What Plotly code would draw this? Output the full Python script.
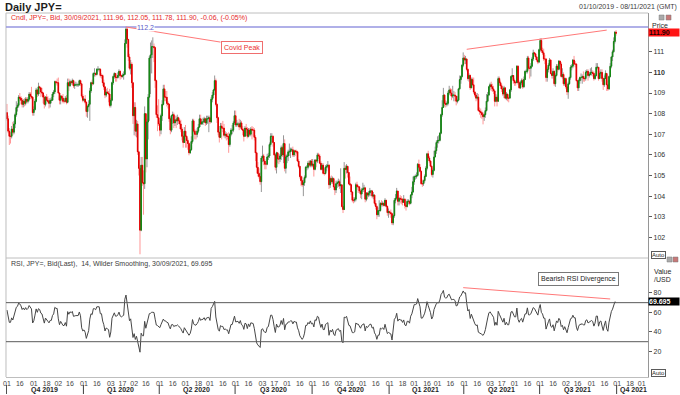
import numpy as np
import pandas as pd
import plotly.graph_objects as go

# ---------------- data (USD/JPY daily) ----------------
# September 2019 closes, only used to warm up the 14-period RSI
warmup_close = [106.25, 105.95, 106.45, 106.95, 106.90, 107.25, 107.55, 107.80, 108.10, 108.10,
                108.10, 108.15, 108.45, 107.95, 107.55, 107.55, 107.05, 107.75, 107.75, 107.90, 108.05]

# each month: (high, low, close) for every weekday of that month
oct19 = [(108.47, 107.65, 107.75), (107.90, 107.05, 107.15), (107.30, 106.48, 106.90), (107.10, 106.55, 106.90),
         (107.40, 106.80, 107.25), (107.60, 106.95, 107.10), (107.65, 107.00, 107.50), (108.05, 107.30, 107.95),
         (108.60, 107.85, 108.30), (108.50, 108.10, 108.40), (108.90, 108.30, 108.80), (109.00, 108.60, 108.75),
         (108.85, 108.45, 108.65), (108.75, 108.30, 108.45), (108.70, 108.30, 108.60), (108.75, 108.35, 108.50),
         (108.80, 108.40, 108.70), (108.80, 108.50, 108.60), (108.80, 108.50, 108.70), (109.05, 108.60, 108.95),
         (109.05, 108.70, 108.85), (109.30, 108.70, 108.80), (108.85, 107.90, 108.05)]
nov19 = [(108.35, 107.90, 108.20), (108.70, 108.15, 108.60), (109.25, 108.55, 109.15), (109.15, 108.80, 108.95),
         (109.50, 108.85, 109.30), (109.35, 108.95, 109.25), (109.30, 108.80, 109.05), (109.25, 108.85, 109.00),
         (109.05, 108.50, 108.80), (108.90, 108.25, 108.45), (108.85, 108.35, 108.80), (108.95, 108.60, 108.65),
         (108.85, 108.50, 108.60), (108.75, 108.25, 108.50), (108.75, 108.30, 108.65), (108.80, 108.50, 108.65),
         (109.05, 108.65, 108.95), (109.15, 108.80, 109.05), (109.60, 108.95, 109.55), (109.60, 109.40, 109.50),
         (109.70, 109.35, 109.50)]
dec19 = [(109.75, 108.95, 109.00), (109.05, 108.45, 108.65), (108.90, 108.45, 108.85), (108.90, 108.60, 108.75),
         (108.95, 108.50, 108.60), (108.70, 108.50, 108.60), (108.85, 108.55, 108.75), (108.90, 108.45, 108.55),
         (109.70, 108.50, 109.50), (109.70, 109.10, 109.35), (109.65, 109.30, 109.55), (109.60, 109.40, 109.50),
         (109.70, 109.40, 109.60), (109.65, 109.25, 109.35), (109.50, 109.20, 109.40), (109.55, 109.35, 109.40),
         (109.50, 109.30, 109.40), (109.45, 109.30, 109.40), (109.65, 109.35, 109.60), (109.65, 109.35, 109.45),
         (109.45, 108.75, 108.85), (108.95, 108.55, 108.65)]
jan20 = [(108.75, 108.60, 108.70), (108.90, 108.45, 108.55), (108.60, 107.85, 108.10), (108.40, 107.80, 108.35),
         (108.65, 108.30, 108.45), (109.25, 107.65, 109.10), (109.55, 109.00, 109.50), (109.65, 109.35, 109.45),
         (110.00, 109.40, 109.95), (110.20, 109.80, 109.95), (110.00, 109.80, 109.90), (110.20, 109.85, 110.15),
         (110.30, 110.05, 110.15), (110.20, 110.05, 110.15), (110.20, 109.75, 109.85), (109.95, 109.70, 109.85),
         (109.90, 109.35, 109.50), (109.65, 109.15, 109.30), (109.20, 108.75, 108.90), (109.20, 108.80, 109.05),
         (109.25, 108.95, 109.00), (109.10, 108.55, 108.95), (109.20, 108.30, 108.40)]
feb20 = [(108.75, 108.30, 108.65), (109.55, 108.60, 109.50), (109.85, 109.40, 109.80), (110.00, 109.70, 109.95),
         (109.95, 109.55, 109.75), (109.85, 109.55, 109.75), (110.00, 109.70, 109.85), (110.15, 109.75, 110.05),
         (110.10, 109.65, 109.85), (109.90, 109.70, 109.80), (109.95, 109.75, 109.85), (110.05, 109.65, 109.90),
         (111.60, 109.90, 111.40), (112.22, 111.40, 112.10), (112.15, 111.20, 111.60), (111.60, 110.55, 110.75),
         (110.90, 110.10, 110.20), (110.60, 109.90, 110.40), (110.50, 109.25, 109.50), (109.40, 107.50, 107.90)]
mar20 = [(108.55, 106.95, 108.30), (108.55, 106.90, 107.15), (107.70, 106.85, 107.50), (107.65, 106.00, 106.15),
         (106.20, 105.00, 105.35), (105.50, 101.18, 102.35), (105.90, 102.30, 105.50), (105.90, 104.50, 104.65),
         (105.25, 103.10, 104.60), (108.35, 104.35, 108.00), (107.30, 105.15, 105.80), (107.75, 105.40, 107.60),
         (108.95, 106.75, 108.80), (110.80, 107.65, 110.70), (111.45, 108.95, 110.85), (111.55, 109.95, 111.25),
         (111.70, 110.70, 111.25), (111.40, 110.50, 111.20), (111.25, 109.25, 109.60), (109.65, 107.80, 107.95),
         (108.40, 107.15, 107.80), (108.70, 107.40, 107.50)]
apr20 = [(107.65, 106.90, 107.20), (108.00, 107.00, 107.90), (108.65, 107.65, 108.45), (109.40, 108.40, 109.20),
         (109.40, 108.60, 108.80), (109.10, 108.60, 108.80), (109.10, 108.35, 108.50), (108.60, 108.25, 108.45),
         (108.50, 107.60, 107.75), (107.85, 107.00, 107.20), (107.95, 107.10, 107.90), (108.10, 107.50, 107.95),
         (108.05, 107.30, 107.55), (107.90, 107.40, 107.70), (107.90, 107.30, 107.65), (107.95, 107.45, 107.80),
         (107.85, 107.50, 107.65), (107.75, 107.25, 107.50), (107.70, 107.10, 107.25), (107.35, 106.70, 106.90),
         (106.95, 106.35, 106.60), (107.35, 106.60, 107.15)]
may20 = [(107.45, 106.35, 106.90), (106.95, 106.35, 106.70), (106.80, 106.25, 106.55), (106.60, 105.98, 106.10),
         (106.50, 106.05, 106.25), (106.90, 106.20, 106.65), (107.75, 106.55, 107.65), (107.75, 107.05, 107.15),
         (107.25, 106.75, 107.00), (107.20, 106.75, 107.00), (107.30, 106.85, 107.15), (107.50, 107.05, 107.35),
         (107.95, 107.30, 107.75), (107.95, 107.45, 107.50), (107.75, 107.45, 107.60), (107.80, 107.45, 107.60),
         (107.85, 107.55, 107.75), (107.80, 107.40, 107.55), (107.90, 107.45, 107.75), (107.90, 107.50, 107.75),
         (107.90, 107.10, 107.80)]
jun20 = [(107.90, 107.50, 107.60), (108.80, 107.55, 108.70), (109.05, 108.55, 108.90), (109.20, 108.75, 109.15),
         (109.85, 109.10, 109.60), (109.70, 108.35, 108.45), (108.50, 107.55, 107.80), (107.85, 106.95, 107.10),
         (107.10, 106.60, 106.85), (107.55, 106.85, 107.40), (107.55, 106.75, 107.30), (107.65, 107.10, 107.30),
         (107.50, 106.85, 106.95), (107.15, 106.80, 107.00), (107.10, 106.70, 106.90), (107.05, 106.75, 106.90),
         (107.10, 106.10, 106.50), (107.05, 106.40, 107.00), (107.30, 106.90, 107.20), (107.45, 107.00, 107.20),
         (107.65, 107.10, 107.55), (108.15, 107.45, 107.90)]
jul20 = [(108.15, 107.35, 107.45), (107.70, 107.35, 107.50), (107.60, 107.40, 107.50), (107.75, 107.20, 107.35),
         (107.70, 107.35, 107.55), (107.65, 107.20, 107.25), (107.40, 106.95, 107.20), (107.30, 106.65, 106.90),
         (107.40, 106.90, 107.30), (107.50, 107.05, 107.25), (107.35, 106.80, 106.90), (107.30, 106.85, 107.20),
         (107.30, 106.90, 107.00), (107.35, 106.90, 107.25), (107.40, 106.75, 107.20), (107.35, 106.90, 107.20),
         (107.30, 106.70, 106.85), (106.95, 105.70, 106.10), (106.15, 105.10, 105.40), (105.65, 104.95, 105.10),
         (105.35, 104.85, 104.95), (105.15, 104.55, 104.70), (105.95, 104.20, 105.85)]
aug20 = [(106.45, 105.65, 105.95), (106.05, 105.50, 105.70), (105.80, 105.30, 105.55), (105.70, 105.30, 105.55),
         (106.05, 105.50, 105.90), (106.10, 105.75, 105.95), (106.60, 105.85, 106.50), (107.05, 106.40, 106.90),
         (107.05, 106.60, 106.90), (106.95, 106.40, 106.60), (106.60, 105.95, 106.00), (106.05, 105.25, 105.40),
         (106.15, 105.10, 106.10), (106.10, 105.60, 105.80), (106.05, 105.55, 105.80), (106.05, 105.65, 105.95),
         (106.45, 105.75, 106.35), (106.45, 105.90, 106.00), (106.95, 105.60, 106.55), (106.75, 105.20, 105.35),
         (106.00, 105.10, 105.90)]
sep20 = [(106.05, 105.60, 105.95), (106.25, 105.70, 106.15), (106.55, 105.95, 106.15), (106.35, 105.85, 106.25),
         (106.35, 106.15, 106.25), (106.40, 105.90, 106.00), (106.25, 105.90, 106.20), (106.25, 105.95, 106.15),
         (106.25, 106.05, 106.15), (106.20, 105.65, 105.70), (105.80, 105.35, 105.45), (105.45, 104.85, 104.95),
         (105.00, 104.50, 104.75), (104.95, 104.45, 104.55), (104.80, 104.00, 104.65), (105.00, 104.50, 104.90),
         (105.45, 104.85, 105.40), (105.50, 105.25, 105.40), (105.70, 105.30, 105.60), (105.75, 105.40, 105.50),
         (105.75, 105.40, 105.70), (105.80, 105.40, 105.50)]
oct20 = [(105.80, 105.40, 105.55), (105.70, 104.95, 105.30), (105.80, 105.25, 105.75), (105.80, 105.40, 105.70),
         (106.10, 105.60, 106.00), (106.10, 105.80, 105.95), (106.05, 105.55, 105.60), (105.70, 105.25, 105.30),
         (105.60, 105.25, 105.50), (105.60, 105.05, 105.10), (105.35, 105.00, 105.10), (105.50, 105.05, 105.40),
         (105.55, 105.20, 105.45), (105.70, 105.35, 105.50), (105.55, 104.35, 104.55), (104.95, 104.40, 104.85),
         (105.00, 104.60, 104.70), (104.95, 104.60, 104.85), (104.90, 104.30, 104.45), (104.60, 104.05, 104.30),
         (104.75, 104.15, 104.60), (104.75, 104.40, 104.65)]
nov20 = [(104.85, 104.45, 104.70), (104.80, 104.35, 104.50), (105.35, 104.15, 104.55), (104.55, 103.45, 103.50),
         (103.75, 103.18, 103.35), (105.65, 103.35, 105.35), (105.50, 104.85, 105.30), (105.55, 105.10, 105.45),
         (105.40, 104.90, 105.15), (105.15, 104.55, 104.60), (104.95, 104.50, 104.55), (104.60, 104.05, 104.20),
         (104.25, 103.70, 103.80), (103.95, 103.65, 103.80), (103.95, 103.70, 103.85), (104.65, 103.75, 104.55),
         (104.70, 104.30, 104.45), (104.55, 104.15, 104.45), (104.45, 104.15, 104.25), (104.35, 103.90, 104.10),
         (104.40, 103.85, 104.30)]
dec20 = [(104.65, 104.20, 104.35), (104.55, 104.20, 104.40), (104.45, 103.70, 103.85), (104.20, 103.75, 104.15),
         (104.20, 103.85, 104.05), (104.25, 103.95, 104.15), (104.40, 104.00, 104.25), (104.30, 104.00, 104.25),
         (104.30, 103.90, 104.00), (104.20, 103.85, 104.05), (104.10, 103.55, 103.65), (103.80, 103.35, 103.50),
         (103.55, 102.88, 103.10), (103.45, 103.00, 103.30), (103.80, 103.00, 103.30), (103.70, 103.25, 103.65),
         (103.80, 103.50, 103.60), (103.75, 103.50, 103.65), (103.70, 103.50, 103.55), (103.90, 103.50, 103.80),
         (103.80, 103.45, 103.50), (103.55, 103.05, 103.20), (103.40, 102.95, 103.25)]
jan21 = [(103.30, 103.10, 103.20), (103.35, 102.95, 103.15), (103.20, 102.60, 102.70), (103.10, 102.59, 103.05),
         (103.90, 102.95, 103.80), (104.10, 103.65, 103.90), (104.40, 103.95, 104.25), (104.25, 103.55, 103.75),
         (103.95, 103.55, 103.90), (104.05, 103.65, 103.85), (104.00, 103.60, 103.85), (103.90, 103.55, 103.70),
         (104.05, 103.70, 103.85), (103.90, 103.40, 103.55), (103.70, 103.30, 103.50), (103.85, 103.45, 103.75),
         (103.85, 103.60, 103.75), (103.80, 103.55, 103.65), (104.10, 103.60, 104.05), (104.45, 103.90, 104.20),
         (104.95, 104.15, 104.70)]
feb21 = [(105.00, 104.55, 104.95), (105.05, 104.80, 104.95), (105.15, 104.85, 105.00), (105.60, 104.95, 105.55),
         (105.77, 105.30, 105.40), (105.55, 105.15, 105.20), (105.25, 104.55, 104.60), (104.80, 104.45, 104.60),
         (104.80, 104.50, 104.75), (105.05, 104.65, 104.95), (105.45, 104.95, 105.35), (106.10, 105.25, 106.05),
         (106.20, 105.70, 105.85), (105.95, 105.60, 105.70), (105.75, 105.40, 105.45), (105.50, 104.95, 105.05),
         (105.35, 104.90, 105.25), (106.20, 105.20, 105.90), (106.40, 105.90, 106.20), (106.70, 106.05, 106.60)]
mar21 = [(106.90, 106.35, 106.70), (106.95, 106.55, 106.70), (107.10, 106.65, 107.05), (108.00, 107.00, 107.95),
         (108.65, 107.85, 108.30), (109.25, 108.30, 108.90), (108.95, 108.35, 108.50), (108.65, 108.30, 108.45),
         (108.60, 108.35, 108.50), (109.10, 108.40, 109.00), (109.35, 108.90, 109.15), (109.25, 108.85, 109.00),
         (109.20, 108.65, 108.85), (109.35, 108.75, 108.90), (109.10, 108.60, 108.90), (109.05, 108.60, 108.85),
         (108.85, 108.40, 108.60), (108.85, 108.50, 108.65), (109.25, 108.60, 109.20), (109.85, 109.15, 109.65),
         (109.85, 109.45, 109.80), (110.40, 109.75, 110.35), (110.97, 110.25, 110.70)]
apr21 = [(110.85, 110.40, 110.60), (110.80, 110.40, 110.65), (110.70, 110.05, 110.15), (110.20, 109.60, 109.70),
         (109.95, 109.55, 109.85), (109.90, 109.15, 109.25), (109.75, 109.25, 109.65), (109.75, 109.35, 109.40),
         (109.75, 108.95, 109.05), (109.10, 108.80, 108.90), (109.00, 108.60, 108.75), (109.00, 108.65, 108.80),
         (108.95, 108.10, 108.15), (108.30, 107.95, 108.10), (108.25, 107.80, 108.05), (108.15, 107.75, 107.95),
         (108.05, 107.48, 107.85), (108.05, 107.65, 107.95), (108.30, 107.80, 108.15), (108.95, 108.10, 108.60),
         (109.05, 108.55, 108.90), (109.35, 108.85, 109.30)]
may21 = [(109.50, 109.15, 109.40), (109.55, 109.10, 109.30), (109.45, 109.05, 109.20), (109.35, 108.95, 109.10),
         (109.15, 108.35, 108.60), (108.95, 108.55, 108.80), (108.90, 108.35, 108.60), (109.80, 108.60, 109.70),
         (109.80, 109.35, 109.50), (109.60, 109.20, 109.35), (109.45, 109.05, 109.20), (109.30, 108.85, 108.95),
         (109.35, 108.75, 109.25), (109.25, 108.70, 108.75), (109.05, 108.65, 108.95), (108.95, 108.60, 108.75),
         (108.90, 108.55, 108.75), (109.20, 108.75, 109.15), (109.85, 109.05, 109.80), (110.20, 109.70, 109.85),
         (109.85, 109.45, 109.60)]
jun21 = [(109.70, 109.35, 109.50), (109.60, 109.35, 109.50), (110.35, 109.50, 110.30), (110.35, 109.40, 109.50),
         (109.60, 109.20, 109.25), (109.60, 109.20, 109.50), (109.70, 109.40, 109.60), (109.70, 109.20, 109.30),
         (109.80, 109.25, 109.65), (110.10, 109.65, 110.05), (110.15, 109.95, 110.05), (110.80, 109.95, 110.70),
         (110.80, 110.10, 110.20), (110.30, 109.70, 110.20), (110.45, 109.80, 110.30), (110.75, 110.25, 110.65),
         (111.10, 110.55, 110.95), (111.00, 110.80, 110.90), (110.95, 110.60, 110.75), (110.80, 110.50, 110.60),
         (110.65, 110.40, 110.50), (111.15, 110.45, 111.10)]
jul21 = [(111.65, 111.00, 111.55), (111.66, 110.95, 111.05), (111.20, 110.85, 110.95), (111.15, 110.55, 110.65),
         (110.85, 110.40, 110.65), (110.70, 109.55, 109.75), (110.25, 109.55, 110.15), (110.45, 110.00, 110.35),
         (110.70, 110.30, 110.60), (110.65, 109.90, 109.95), (110.10, 109.70, 109.85), (110.20, 109.70, 110.05),
         (110.10, 109.35, 109.45), (109.95, 109.30, 109.85), (110.40, 109.80, 110.30), (110.40, 110.00, 110.15),
         (110.60, 110.10, 110.55), (110.55, 110.25, 110.40), (110.50, 109.75, 109.80), (110.20, 109.70, 109.90),
         (110.00, 109.35, 109.45), (109.75, 109.35, 109.70)]
aug21 = [(109.75, 109.20, 109.30), (109.40, 108.90, 109.05), (109.55, 108.72, 109.45), (109.80, 109.40, 109.75),
         (110.35, 109.65, 110.25), (110.40, 110.10, 110.30), (110.65, 110.20, 110.60), (110.80, 110.35, 110.40),
         (110.55, 110.25, 110.40), (110.45, 109.55, 109.60), (109.60, 109.10, 109.25), (109.70, 109.10, 109.60),
         (109.80, 109.45, 109.75), (109.95, 109.60, 109.75), (109.90, 109.45, 109.80), (110.05, 109.55, 109.70),
         (109.80, 109.55, 109.70), (110.10, 109.60, 110.00), (110.15, 109.80, 110.05), (110.15, 109.60, 109.85),
         (110.00, 109.75, 109.90), (110.20, 109.85, 110.00)]
sep21 = [(110.25, 109.85, 110.00), (110.10, 109.80, 109.95), (110.05, 109.60, 109.70), (109.95, 109.65, 109.85),
         (110.45, 109.80, 110.25), (110.45, 110.15, 110.25), (110.25, 109.60, 109.70), (110.05, 109.70, 109.95),
         (110.15, 109.85, 110.00), (110.15, 109.55, 109.70), (109.75, 109.15, 109.40), (109.85, 109.30, 109.70),
         (110.10, 109.70, 109.95), (109.95, 109.10, 109.40), (109.60, 109.10, 109.20), (109.85, 109.15, 109.80),
         (110.45, 109.75, 110.30), (110.80, 110.20, 110.75), (111.10, 110.55, 111.00), (111.70, 110.95, 111.50),
         (112.00, 111.40, 111.95), (112.05, 111.78, 111.90)]

months = [("2019-10", oct19), ("2019-11", nov19), ("2019-12", dec19), ("2020-01", jan20),
          ("2020-02", feb20), ("2020-03", mar20), ("2020-04", apr20), ("2020-05", may20),
          ("2020-06", jun20), ("2020-07", jul20), ("2020-08", aug20), ("2020-09", sep20),
          ("2020-10", oct20), ("2020-11", nov20), ("2020-12", dec20), ("2021-01", jan21),
          ("2021-02", feb21), ("2021-03", mar21), ("2021-04", apr21), ("2021-05", may21),
          ("2021-06", jun21), ("2021-07", jul21), ("2021-08", aug21), ("2021-09", sep21)]

quarter_names = ["Q4 2019", "Q1 2020", "Q2 2020", "Q3 2020", "Q4 2020",
                 "Q1 2021", "Q2 2021", "Q3 2021", "Q4 2021"]
quarter_starts = ["2019-10-01", "2020-01-01", "2020-04-01", "2020-07-01", "2020-10-01",
                  "2021-01-01", "2021-04-01", "2021-07-01", "2021-10-01"]
tick_days = [1, 16]
axis_start, axis_end = "2019-10-01", "2021-11-08"

price_ticks = [102, 103, 104, 105, 106, 107, 108, 109, 110, 111]
rsi_ticks = [20, 40, 60, 80]
rsi_levels = [70, 30]
rsi_period = 14
chart_title = "Daily JPY="
last_price_label = "111.90"
last_rsi_label = "69.695"

covid_peak = 112.2
covid_line = [("2020-02-20", 112.2), ("2020-06-12", 111.47)]
price_trend = [("2021-04-05", 111.12), ("2021-09-20", 112.05)]
rsi_trend = [("2021-03-31", 85.4), ("2021-09-23", 73.8)]

# ---------------- build series ----------------
all_days = pd.bdate_range(axis_start, axis_end)
pos = {d: i for i, d in enumerate(all_days)}

def xi(s):
    d = pd.Timestamp(s)
    while d.weekday() >= 5:
        d += pd.Timedelta(days=1)
    return pos[d]

xs, hi, lo, cl = [], [], [], []
for ym, rows in months:
    start = pd.Timestamp(ym + "-01")
    days = pd.bdate_range(start, start + pd.offsets.MonthEnd(0))
    for d, (h, l, c) in zip(days, rows):
        xs.append(pos[d]); hi.append(h); lo.append(l); cl.append(c)

op = [warmup_close[-1]] + cl[:-1]
hi = [max(h, o, c) for h, o, c in zip(hi, op, cl)]
lo = [min(l, o, c) for l, o, c in zip(lo, op, cl)]
body_hi = [max(o, c) for o, c in zip(op, cl)]
body_lo = [min(o, c) for o, c in zip(op, cl)]

# Wilder RSI
allc = np.array(warmup_close + cl, dtype=float)
dlt = np.diff(allc)
gain = np.clip(dlt, 0, None)
loss = np.clip(-dlt, 0, None)
ag = gain[:rsi_period].mean()
al = loss[:rsi_period].mean()
rsi_all = [np.nan] * (rsi_period + 1)
rsi_all[-1] = 100 - 100 / (1 + ag / al)
for g, l in zip(gain[rsi_period:], loss[rsi_period:]):
    ag = (ag * (rsi_period - 1) + g) / rsi_period
    al = (al * (rsi_period - 1) + l) / rsi_period
    rsi_all.append(100 - 100 / (1 + ag / al))
rsi = rsi_all[len(warmup_close):]

# ---------------- figure ----------------
W, H = 680, 395
FONT = "Liberation Sans, Arial, sans-serif"
def px(v): return v / W
def py(v): return 1 - v / H

X0, X1 = 3, 648
P_TOP, P_BOT, R_BOT = 13, 258, 377

GREEN, RED = "rgb(20,135,20)", "rgb(225,0,0)"
WICK_UP, WICK_DN = "rgb(150,150,150)", "rgb(255,150,150)"

fig = go.Figure()
fig.add_trace(go.Candlestick(
    x=xs, open=op, high=hi, low=lo, close=cl, xaxis="x", yaxis="y",
    increasing=dict(line=dict(color=WICK_UP, width=1), fillcolor=WICK_UP),
    decreasing=dict(line=dict(color=WICK_DN, width=1), fillcolor=WICK_DN),
    whiskerwidth=0, showlegend=False, hoverinfo="skip"))
fig.add_trace(go.Candlestick(
    x=xs, open=op, high=body_hi, low=body_lo, close=cl, xaxis="x", yaxis="y",
    increasing=dict(line=dict(color=GREEN, width=1.0), fillcolor=GREEN),
    decreasing=dict(line=dict(color=RED, width=1.0), fillcolor=RED),
    whiskerwidth=0, showlegend=False))
fig.add_trace(go.Scatter(x=xs, y=rsi, mode="lines", xaxis="x", yaxis="y2",
                         line=dict(color="rgb(70,70,70)", width=1), showlegend=False))

tick_vals, tick_text = [], []
for m in pd.date_range("2019-10-01", axis_end, freq="MS"):
    for dd in tick_days:
        d = m + pd.Timedelta(days=dd - 1)
        while d.weekday() >= 5:
            d += pd.Timedelta(days=1)
        if d in pos:
            tick_vals.append(pos[d]); tick_text.append(d.strftime("%d"))

xr = [-0.85, len(all_days) - 0.5]
fig.update_layout(
    width=W, height=H, margin=dict(l=0, r=0, t=0, b=0), autosize=False,
    paper_bgcolor="white", plot_bgcolor="white", hovermode=False, dragmode=False,
    font=dict(family=FONT, size=7, color="rgb(60,60,60)"),
    xaxis=dict(domain=[px(X0), px(X1)], range=xr, anchor="y2", rangeslider=dict(visible=False),
               tickvals=tick_vals, ticktext=tick_text, ticks="", showgrid=False, zeroline=False,
               showline=True, linecolor="rgb(190,190,190)", tickfont=dict(size=7, color="rgb(70,70,70)"),
               fixedrange=True),
    yaxis=dict(domain=[py(P_BOT), py(P_TOP)], range=[101.0, 112.88], side="right", anchor="x",
               tickvals=price_ticks,
               ticktext=[("<b>%d</b>" % v) if v == 110 else str(v) for v in price_ticks],
               ticks="outside", ticklen=3, tickcolor="rgb(90,90,90)", showgrid=False, zeroline=False,
               showline=True, linecolor="rgb(150,150,150)", tickfont=dict(size=7, color="rgb(50,50,50)"),
               fixedrange=True),
    yaxis2=dict(domain=[py(R_BOT), py(P_BOT)], range=[-6.2, 115.8], side="right", anchor="x",
                tickvals=rsi_ticks, ticktext=[str(v) for v in rsi_ticks],
                ticks="outside", ticklen=3, tickcolor="rgb(90,90,90)", showgrid=False, zeroline=False,
                showline=True, linecolor="rgb(150,150,150)", tickfont=dict(size=7, color="rgb(50,50,50)"),
                fixedrange=True),
)

shapes = []
frame = dict(color="rgb(190,190,190)", width=1)
shapes.append(dict(type="line", xref="paper", yref="paper", x0=px(X0), x1=px(X1), y0=py(P_TOP), y1=py(P_TOP), line=frame))
shapes.append(dict(type="line", xref="paper", yref="paper", x0=px(X0), x1=px(X0), y0=py(P_TOP), y1=py(R_BOT), line=frame))
shapes.append(dict(type="line", xref="paper", yref="paper", x0=px(X0), x1=px(X1), y0=py(P_BOT), y1=py(P_BOT), line=frame))
# covid peak horizontal
shapes.append(dict(type="line", xref="paper", yref="y", x0=px(X0), x1=px(X1), y0=covid_peak, y1=covid_peak,
                   line=dict(color="rgb(150,150,225)", width=1.5)))
pink = dict(color="rgb(255,120,120)", width=1)
for (a, va), (b, vb) in [covid_line, price_trend]:
    shapes.append(dict(type="line", xref="x", yref="y", x0=xi(a), x1=xi(b), y0=va, y1=vb, line=pink))
(a, va), (b, vb) = rsi_trend
shapes.append(dict(type="line", xref="x", yref="y2", x0=xi(a), x1=xi(b), y0=va, y1=vb, line=pink))
for lv in rsi_levels:
    shapes.append(dict(type="line", xref="paper", yref="y2", x0=px(X0), x1=px(X1), y0=lv, y1=lv,
                       line=dict(color="rgb(90,90,90)", width=1)))
# quarter separators
for q in quarter_starts:
    shapes.append(dict(type="line", xref="x", yref="paper", x0=xi(q) - 0.5, x1=xi(q) - 0.5,
                       y0=py(385), y1=py(394), line=dict(color="rgb(60,60,60)", width=1)))
# small window icons
for (ix, iy, col) in [(659, 15, "rgb(170,170,170)"), (666, 15, "rgb(200,120,120)"),
                      (667, 257, "rgb(170,170,170)"), (673, 257, "rgb(200,120,120)")]:
    shapes.append(dict(type="rect", xref="paper", yref="paper", x0=px(ix), x1=px(ix + 5),
                       y0=py(iy + 5), y1=py(iy), line=dict(color="rgb(120,120,120)", width=0.5), fillcolor=col))

ann = []
def A(text, x, y, xanchor="left", size=7, color="rgb(60,60,60)", **kw):
    d = dict(text=text, x=x, y=y, xref=kw.pop("xref", "paper"), yref=kw.pop("yref", "paper"),
             xanchor=xanchor, yanchor=kw.pop("yanchor", "middle"), showarrow=False,
             font=dict(family=FONT, size=size, color=color))
    d.update(kw)
    ann.append(d)

A("01/10/2019 - 08/11/2021 (GMT)", px(679), py(7), xanchor="right", color="rgb(60,60,60)")
A("Cndl, JPY=, Bid, 30/09/2021, 111.96, 112.05, 111.78, 111.90, -0.06, (-0.05%)", px(6), py(18),
  color="rgb(230,40,40)")
A("RSI, JPY=, Bid(Last),  14, Wilder Smoothing, 30/09/2021, 69.695", px(6), py(264), color="rgb(60,60,60)")
A("Price", px(650), py(25), color="rgb(40,40,40)")
A("<b>%s</b>" % last_price_label, px(648), py(32.5), color="rgb(30,0,0)", bgcolor="rgb(255,20,20)",
  width=30, align="left", borderpad=0)
A("Value", px(652), py(271), color="rgb(40,40,40)")
A("/USD", px(652), py(279), color="rgb(40,40,40)")
A("<b>%s</b>" % last_rsi_label, px(648), py(301.5), color="white", bgcolor="black", width=30, align="left",
  borderpad=0)
A("Auto", px(651), py(254.5), size=6, color="rgb(40,40,40)", bordercolor="rgb(90,90,90)", borderwidth=1, borderpad=0)
A("Auto", px(651), py(373), size=6, color="rgb(40,40,40)", bordercolor="rgb(90,90,90)", borderwidth=1, borderpad=0)
A("%.1f" % covid_peak, xi("2020-03-16"), covid_peak, xanchor="center", xref="x", yref="y",
  color="rgb(90,90,200)", bgcolor="white", borderpad=0)
A("Covid Peak", xi(covid_line[1][0]), 111.23, xref="x", yref="y", color="rgb(235,50,50)",
  bgcolor="white", bordercolor="rgb(240,110,110)", borderwidth=1, borderpad=2)
A("Bearish RSI Divergence", xi("2021-06-29"), 93.8, xref="x", yref="y2", color="rgb(30,30,30)",
  bgcolor="white", bordercolor="rgb(120,120,120)", borderwidth=1, borderpad=2)
# chart title, anchored to the very top-left corner of the page
A("<b>%s</b>" % chart_title, 0.0015, 1.0, yanchor="top", size=11, color="rgb(30,30,30)", borderpad=0)

# quarter labels
qidx = [xi(q) for q in quarter_starts]
for k, name in enumerate(quarter_names):
    if k + 1 < len(qidx):
        A("<b>%s</b>" % name, (qidx[k] + qidx[k + 1]) / 2 - 1, py(390), xanchor="center", xref="x",
          color="rgb(30,30,30)")
    else:
        A("<b>%s</b>" % name, qidx[k] + 0.5, py(390), xanchor="left", xref="x", color="rgb(30,30,30)")

fig.update_layout(shapes=shapes, annotations=ann)
fig.write_html("out.html", config={"displayModeBar": False, "staticPlot": True})

# remove the default page margin so the 680x395 figure fills the window exactly
with open("out.html", encoding="utf-8") as f:
    html = f.read()
html = html.replace("<head>", "<head><style>html,body{margin:0;padding:0;overflow:hidden;}</style>", 1)
with open("out.html", "w", encoding="utf-8") as f:
    f.write(html)
